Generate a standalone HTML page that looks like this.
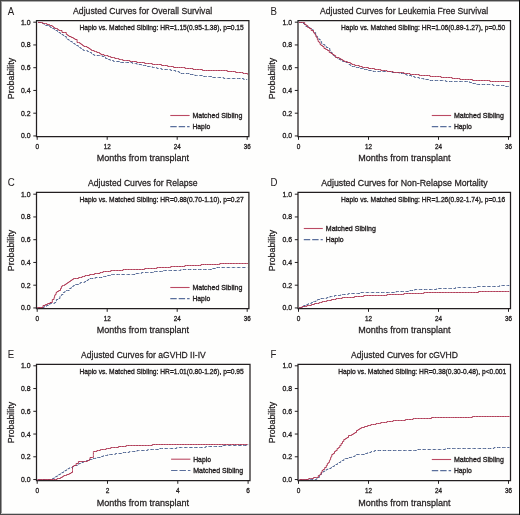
<!DOCTYPE html>
<html><head><meta charset="utf-8"><style>
html,body{margin:0;padding:0;background:#fefefd;}
svg{display:block;will-change:transform;}
text{font-family:"Liberation Sans",sans-serif;fill:#231f20;stroke:#231f20;stroke-width:0.26px;}
.s{stroke-width:0.34px;}
</style></head><body>
<svg width="520" height="515" viewBox="0 0 520 515">
<rect x="0" y="0" width="520" height="515" fill="#fefefd"/>

<text transform="translate(7.70,14.90) scale(0.87,1)" x="0" y="0" font-size="11.1" style="stroke-width:0.05px">A</text>
<text x="73.10" y="14.20" font-size="9.3" textLength="139.10" lengthAdjust="spacingAndGlyphs">Adjusted Curves for Overall Survival</text>
<path d="M36.50 20.50 H248.90 V136.50 H36.50 Z" fill="none" stroke="#231f20" stroke-width="1.25"/>
<line x1="33.30" y1="135.94" x2="36.50" y2="135.94" stroke="#231f20" stroke-width="1"/>
<text x="30.60" y="138.44" class="s" font-size="7.5" text-anchor="end" textLength="9.6" lengthAdjust="spacingAndGlyphs">0.0</text>
<line x1="33.30" y1="113.19" x2="36.50" y2="113.19" stroke="#231f20" stroke-width="1"/>
<text x="30.60" y="115.69" class="s" font-size="7.5" text-anchor="end" textLength="9.6" lengthAdjust="spacingAndGlyphs">0.2</text>
<line x1="33.30" y1="90.44" x2="36.50" y2="90.44" stroke="#231f20" stroke-width="1"/>
<text x="30.60" y="92.94" class="s" font-size="7.5" text-anchor="end" textLength="9.6" lengthAdjust="spacingAndGlyphs">0.4</text>
<line x1="33.30" y1="67.70" x2="36.50" y2="67.70" stroke="#231f20" stroke-width="1"/>
<text x="30.60" y="70.20" class="s" font-size="7.5" text-anchor="end" textLength="9.6" lengthAdjust="spacingAndGlyphs">0.6</text>
<line x1="33.30" y1="44.95" x2="36.50" y2="44.95" stroke="#231f20" stroke-width="1"/>
<text x="30.60" y="47.45" class="s" font-size="7.5" text-anchor="end" textLength="9.6" lengthAdjust="spacingAndGlyphs">0.8</text>
<line x1="33.30" y1="22.20" x2="36.50" y2="22.20" stroke="#231f20" stroke-width="1"/>
<text x="30.60" y="24.70" class="s" font-size="7.5" text-anchor="end" textLength="9.6" lengthAdjust="spacingAndGlyphs">1.0</text>
<line x1="37.20" y1="136.50" x2="37.20" y2="139.80" stroke="#231f20" stroke-width="1"/>
<text x="37.20" y="149.40" class="s" font-size="7.5" text-anchor="middle" textLength="3.6" lengthAdjust="spacingAndGlyphs">0</text>
<line x1="107.20" y1="136.50" x2="107.20" y2="139.80" stroke="#231f20" stroke-width="1"/>
<text x="107.20" y="149.40" class="s" font-size="7.5" text-anchor="middle" textLength="7.0" lengthAdjust="spacingAndGlyphs">12</text>
<line x1="177.20" y1="136.50" x2="177.20" y2="139.80" stroke="#231f20" stroke-width="1"/>
<text x="177.20" y="149.40" class="s" font-size="7.5" text-anchor="middle" textLength="7.0" lengthAdjust="spacingAndGlyphs">24</text>
<line x1="247.20" y1="136.50" x2="247.20" y2="139.80" stroke="#231f20" stroke-width="1"/>
<text x="247.20" y="149.40" class="s" font-size="7.5" text-anchor="middle" textLength="7.0" lengthAdjust="spacingAndGlyphs">36</text>
<text x="142.90" y="161.10" font-size="9.3" text-anchor="middle" textLength="92.3" lengthAdjust="spacingAndGlyphs">Months from transplant</text>
<text transform="translate(13.70,78.50) rotate(-90)" x="0" y="0" font-size="9.3" text-anchor="middle" textLength="41.3" lengthAdjust="spacingAndGlyphs">Probability</text>
<text x="243.80" y="30.30" class="s" font-size="7.5" text-anchor="end" textLength="164.4" lengthAdjust="spacingAndGlyphs">Haplo vs. Matched Sibling: HR=1.15(0.95-1.38), p=0.15</text>
<line x1="170.30" y1="115.50" x2="189.60" y2="115.50" stroke="#bb4a63" stroke-width="1.1"/>
<text x="192.40" y="117.80" class="s" font-size="7.3" textLength="50.0" lengthAdjust="spacingAndGlyphs">Matched Sibling</text>
<line x1="170.30" y1="126.60" x2="189.60" y2="126.60" stroke="#5a6f9c" stroke-width="1.1" stroke-dasharray="6.4 2"/>
<text x="192.40" y="128.90" class="s" font-size="7.3" textLength="17.8" lengthAdjust="spacingAndGlyphs">Haplo</text>
<text transform="translate(270.40,14.90) scale(0.87,1)" x="0" y="0" font-size="11.1" style="stroke-width:0.05px">B</text>
<text x="320.00" y="14.20" font-size="9.3" textLength="168.20" lengthAdjust="spacingAndGlyphs">Adjusted Curves for Leukemia Free Survival</text>
<path d="M298.00 20.50 H510.50 V136.50 H298.00 Z" fill="none" stroke="#231f20" stroke-width="1.25"/>
<line x1="294.80" y1="135.94" x2="298.00" y2="135.94" stroke="#231f20" stroke-width="1"/>
<text x="292.10" y="138.44" class="s" font-size="7.5" text-anchor="end" textLength="9.6" lengthAdjust="spacingAndGlyphs">0.0</text>
<line x1="294.80" y1="113.19" x2="298.00" y2="113.19" stroke="#231f20" stroke-width="1"/>
<text x="292.10" y="115.69" class="s" font-size="7.5" text-anchor="end" textLength="9.6" lengthAdjust="spacingAndGlyphs">0.2</text>
<line x1="294.80" y1="90.44" x2="298.00" y2="90.44" stroke="#231f20" stroke-width="1"/>
<text x="292.10" y="92.94" class="s" font-size="7.5" text-anchor="end" textLength="9.6" lengthAdjust="spacingAndGlyphs">0.4</text>
<line x1="294.80" y1="67.70" x2="298.00" y2="67.70" stroke="#231f20" stroke-width="1"/>
<text x="292.10" y="70.20" class="s" font-size="7.5" text-anchor="end" textLength="9.6" lengthAdjust="spacingAndGlyphs">0.6</text>
<line x1="294.80" y1="44.95" x2="298.00" y2="44.95" stroke="#231f20" stroke-width="1"/>
<text x="292.10" y="47.45" class="s" font-size="7.5" text-anchor="end" textLength="9.6" lengthAdjust="spacingAndGlyphs">0.8</text>
<line x1="294.80" y1="22.20" x2="298.00" y2="22.20" stroke="#231f20" stroke-width="1"/>
<text x="292.10" y="24.70" class="s" font-size="7.5" text-anchor="end" textLength="9.6" lengthAdjust="spacingAndGlyphs">1.0</text>
<line x1="298.50" y1="136.50" x2="298.50" y2="139.80" stroke="#231f20" stroke-width="1"/>
<text x="298.50" y="149.40" class="s" font-size="7.5" text-anchor="middle" textLength="3.6" lengthAdjust="spacingAndGlyphs">0</text>
<line x1="368.50" y1="136.50" x2="368.50" y2="139.80" stroke="#231f20" stroke-width="1"/>
<text x="368.50" y="149.40" class="s" font-size="7.5" text-anchor="middle" textLength="7.0" lengthAdjust="spacingAndGlyphs">12</text>
<line x1="438.50" y1="136.50" x2="438.50" y2="139.80" stroke="#231f20" stroke-width="1"/>
<text x="438.50" y="149.40" class="s" font-size="7.5" text-anchor="middle" textLength="7.0" lengthAdjust="spacingAndGlyphs">24</text>
<line x1="508.50" y1="136.50" x2="508.50" y2="139.80" stroke="#231f20" stroke-width="1"/>
<text x="508.50" y="149.40" class="s" font-size="7.5" text-anchor="middle" textLength="7.0" lengthAdjust="spacingAndGlyphs">36</text>
<text x="404.40" y="161.10" font-size="9.3" text-anchor="middle" textLength="92.3" lengthAdjust="spacingAndGlyphs">Months from transplant</text>
<text transform="translate(275.20,78.50) rotate(-90)" x="0" y="0" font-size="9.3" text-anchor="middle" textLength="41.3" lengthAdjust="spacingAndGlyphs">Probability</text>
<text x="505.30" y="30.30" class="s" font-size="7.5" text-anchor="end" textLength="164.4" lengthAdjust="spacingAndGlyphs">Haplo vs. Matched Sibling: HR=1.06(0.89-1.27), p=0.50</text>
<line x1="431.80" y1="115.50" x2="451.10" y2="115.50" stroke="#bb4a63" stroke-width="1.1"/>
<text x="453.90" y="117.80" class="s" font-size="7.3" textLength="50.0" lengthAdjust="spacingAndGlyphs">Matched Sibling</text>
<line x1="431.80" y1="126.60" x2="451.10" y2="126.60" stroke="#5a6f9c" stroke-width="1.1" stroke-dasharray="6.4 2"/>
<text x="453.90" y="128.90" class="s" font-size="7.3" textLength="17.8" lengthAdjust="spacingAndGlyphs">Haplo</text>
<text transform="translate(7.70,186.30) scale(0.87,1)" x="0" y="0" font-size="11.1" style="stroke-width:0.05px">C</text>
<text x="88.00" y="186.20" font-size="9.3" textLength="109.60" lengthAdjust="spacingAndGlyphs">Adjusted Curves for Relapse</text>
<path d="M36.50 192.30 H248.90 V308.50 H36.50 Z" fill="none" stroke="#231f20" stroke-width="1.25"/>
<line x1="33.30" y1="307.94" x2="36.50" y2="307.94" stroke="#231f20" stroke-width="1"/>
<text x="30.60" y="310.44" class="s" font-size="7.5" text-anchor="end" textLength="9.6" lengthAdjust="spacingAndGlyphs">0.0</text>
<line x1="33.30" y1="285.19" x2="36.50" y2="285.19" stroke="#231f20" stroke-width="1"/>
<text x="30.60" y="287.69" class="s" font-size="7.5" text-anchor="end" textLength="9.6" lengthAdjust="spacingAndGlyphs">0.2</text>
<line x1="33.30" y1="262.44" x2="36.50" y2="262.44" stroke="#231f20" stroke-width="1"/>
<text x="30.60" y="264.94" class="s" font-size="7.5" text-anchor="end" textLength="9.6" lengthAdjust="spacingAndGlyphs">0.4</text>
<line x1="33.30" y1="239.70" x2="36.50" y2="239.70" stroke="#231f20" stroke-width="1"/>
<text x="30.60" y="242.20" class="s" font-size="7.5" text-anchor="end" textLength="9.6" lengthAdjust="spacingAndGlyphs">0.6</text>
<line x1="33.30" y1="216.95" x2="36.50" y2="216.95" stroke="#231f20" stroke-width="1"/>
<text x="30.60" y="219.45" class="s" font-size="7.5" text-anchor="end" textLength="9.6" lengthAdjust="spacingAndGlyphs">0.8</text>
<line x1="33.30" y1="194.20" x2="36.50" y2="194.20" stroke="#231f20" stroke-width="1"/>
<text x="30.60" y="196.70" class="s" font-size="7.5" text-anchor="end" textLength="9.6" lengthAdjust="spacingAndGlyphs">1.0</text>
<line x1="37.20" y1="308.50" x2="37.20" y2="311.80" stroke="#231f20" stroke-width="1"/>
<text x="37.20" y="321.40" class="s" font-size="7.5" text-anchor="middle" textLength="3.6" lengthAdjust="spacingAndGlyphs">0</text>
<line x1="107.20" y1="308.50" x2="107.20" y2="311.80" stroke="#231f20" stroke-width="1"/>
<text x="107.20" y="321.40" class="s" font-size="7.5" text-anchor="middle" textLength="7.0" lengthAdjust="spacingAndGlyphs">12</text>
<line x1="177.20" y1="308.50" x2="177.20" y2="311.80" stroke="#231f20" stroke-width="1"/>
<text x="177.20" y="321.40" class="s" font-size="7.5" text-anchor="middle" textLength="7.0" lengthAdjust="spacingAndGlyphs">24</text>
<line x1="247.20" y1="308.50" x2="247.20" y2="311.80" stroke="#231f20" stroke-width="1"/>
<text x="247.20" y="321.40" class="s" font-size="7.5" text-anchor="middle" textLength="7.0" lengthAdjust="spacingAndGlyphs">36</text>
<text x="142.90" y="332.70" font-size="9.3" text-anchor="middle" textLength="92.3" lengthAdjust="spacingAndGlyphs">Months from transplant</text>
<text transform="translate(13.70,250.50) rotate(-90)" x="0" y="0" font-size="9.3" text-anchor="middle" textLength="41.3" lengthAdjust="spacingAndGlyphs">Probability</text>
<text x="243.80" y="202.30" class="s" font-size="7.5" text-anchor="end" textLength="164.4" lengthAdjust="spacingAndGlyphs">Haplo vs. Matched Sibling: HR=0.88(0.70-1.10), p=0.27</text>
<line x1="170.30" y1="287.50" x2="189.60" y2="287.50" stroke="#bb4a63" stroke-width="1.1"/>
<text x="192.40" y="289.80" class="s" font-size="7.3" textLength="50.0" lengthAdjust="spacingAndGlyphs">Matched Sibling</text>
<line x1="170.30" y1="298.60" x2="189.60" y2="298.60" stroke="#5a6f9c" stroke-width="1.1" stroke-dasharray="6.4 2"/>
<text x="192.40" y="300.90" class="s" font-size="7.3" textLength="17.8" lengthAdjust="spacingAndGlyphs">Haplo</text>
<text transform="translate(270.40,186.30) scale(0.87,1)" x="0" y="0" font-size="11.1" style="stroke-width:0.05px">D</text>
<text x="321.20" y="186.20" font-size="9.3" textLength="166.40" lengthAdjust="spacingAndGlyphs">Adjusted Curves for Non-Relapse Mortality</text>
<path d="M298.00 192.30 H510.50 V308.50 H298.00 Z" fill="none" stroke="#231f20" stroke-width="1.25"/>
<line x1="294.80" y1="307.94" x2="298.00" y2="307.94" stroke="#231f20" stroke-width="1"/>
<text x="292.10" y="310.44" class="s" font-size="7.5" text-anchor="end" textLength="9.6" lengthAdjust="spacingAndGlyphs">0.0</text>
<line x1="294.80" y1="285.19" x2="298.00" y2="285.19" stroke="#231f20" stroke-width="1"/>
<text x="292.10" y="287.69" class="s" font-size="7.5" text-anchor="end" textLength="9.6" lengthAdjust="spacingAndGlyphs">0.2</text>
<line x1="294.80" y1="262.44" x2="298.00" y2="262.44" stroke="#231f20" stroke-width="1"/>
<text x="292.10" y="264.94" class="s" font-size="7.5" text-anchor="end" textLength="9.6" lengthAdjust="spacingAndGlyphs">0.4</text>
<line x1="294.80" y1="239.70" x2="298.00" y2="239.70" stroke="#231f20" stroke-width="1"/>
<text x="292.10" y="242.20" class="s" font-size="7.5" text-anchor="end" textLength="9.6" lengthAdjust="spacingAndGlyphs">0.6</text>
<line x1="294.80" y1="216.95" x2="298.00" y2="216.95" stroke="#231f20" stroke-width="1"/>
<text x="292.10" y="219.45" class="s" font-size="7.5" text-anchor="end" textLength="9.6" lengthAdjust="spacingAndGlyphs">0.8</text>
<line x1="294.80" y1="194.20" x2="298.00" y2="194.20" stroke="#231f20" stroke-width="1"/>
<text x="292.10" y="196.70" class="s" font-size="7.5" text-anchor="end" textLength="9.6" lengthAdjust="spacingAndGlyphs">1.0</text>
<line x1="298.50" y1="308.50" x2="298.50" y2="311.80" stroke="#231f20" stroke-width="1"/>
<text x="298.50" y="321.40" class="s" font-size="7.5" text-anchor="middle" textLength="3.6" lengthAdjust="spacingAndGlyphs">0</text>
<line x1="368.50" y1="308.50" x2="368.50" y2="311.80" stroke="#231f20" stroke-width="1"/>
<text x="368.50" y="321.40" class="s" font-size="7.5" text-anchor="middle" textLength="7.0" lengthAdjust="spacingAndGlyphs">12</text>
<line x1="438.50" y1="308.50" x2="438.50" y2="311.80" stroke="#231f20" stroke-width="1"/>
<text x="438.50" y="321.40" class="s" font-size="7.5" text-anchor="middle" textLength="7.0" lengthAdjust="spacingAndGlyphs">24</text>
<line x1="508.50" y1="308.50" x2="508.50" y2="311.80" stroke="#231f20" stroke-width="1"/>
<text x="508.50" y="321.40" class="s" font-size="7.5" text-anchor="middle" textLength="7.0" lengthAdjust="spacingAndGlyphs">36</text>
<text x="404.40" y="332.70" font-size="9.3" text-anchor="middle" textLength="92.3" lengthAdjust="spacingAndGlyphs">Months from transplant</text>
<text transform="translate(275.20,250.50) rotate(-90)" x="0" y="0" font-size="9.3" text-anchor="middle" textLength="41.3" lengthAdjust="spacingAndGlyphs">Probability</text>
<text x="505.30" y="202.30" class="s" font-size="7.5" text-anchor="end" textLength="164.4" lengthAdjust="spacingAndGlyphs">Haplo vs. Matched Sibling: HR=1.26(0.92-1.74), p=0.16</text>
<line x1="303.80" y1="228.50" x2="322.80" y2="228.50" stroke="#bb4a63" stroke-width="1.1"/>
<text x="325.80" y="230.80" class="s" font-size="7.3" textLength="50.0" lengthAdjust="spacingAndGlyphs">Matched Sibling</text>
<line x1="303.80" y1="239.60" x2="322.80" y2="239.60" stroke="#5a6f9c" stroke-width="1.1" stroke-dasharray="6.4 2"/>
<text x="325.80" y="241.90" class="s" font-size="7.3" textLength="17.8" lengthAdjust="spacingAndGlyphs">Haplo</text>
<text transform="translate(7.70,358.10) scale(0.87,1)" x="0" y="0" font-size="11.1" style="stroke-width:0.05px">E</text>
<text x="81.10" y="358.20" font-size="9.3" textLength="124.60" lengthAdjust="spacingAndGlyphs">Adjusted Curves for aGVHD II-IV</text>
<path d="M36.50 364.30 H250.00 V480.50 H36.50 Z" fill="none" stroke="#231f20" stroke-width="1.25"/>
<line x1="33.30" y1="479.54" x2="36.50" y2="479.54" stroke="#231f20" stroke-width="1"/>
<text x="30.60" y="482.04" class="s" font-size="7.5" text-anchor="end" textLength="9.6" lengthAdjust="spacingAndGlyphs">0.0</text>
<line x1="33.30" y1="456.79" x2="36.50" y2="456.79" stroke="#231f20" stroke-width="1"/>
<text x="30.60" y="459.29" class="s" font-size="7.5" text-anchor="end" textLength="9.6" lengthAdjust="spacingAndGlyphs">0.2</text>
<line x1="33.30" y1="434.04" x2="36.50" y2="434.04" stroke="#231f20" stroke-width="1"/>
<text x="30.60" y="436.54" class="s" font-size="7.5" text-anchor="end" textLength="9.6" lengthAdjust="spacingAndGlyphs">0.4</text>
<line x1="33.30" y1="411.30" x2="36.50" y2="411.30" stroke="#231f20" stroke-width="1"/>
<text x="30.60" y="413.80" class="s" font-size="7.5" text-anchor="end" textLength="9.6" lengthAdjust="spacingAndGlyphs">0.6</text>
<line x1="33.30" y1="388.55" x2="36.50" y2="388.55" stroke="#231f20" stroke-width="1"/>
<text x="30.60" y="391.05" class="s" font-size="7.5" text-anchor="end" textLength="9.6" lengthAdjust="spacingAndGlyphs">0.8</text>
<line x1="33.30" y1="365.80" x2="36.50" y2="365.80" stroke="#231f20" stroke-width="1"/>
<text x="30.60" y="368.30" class="s" font-size="7.5" text-anchor="end" textLength="9.6" lengthAdjust="spacingAndGlyphs">1.0</text>
<line x1="37.20" y1="480.50" x2="37.20" y2="483.80" stroke="#231f20" stroke-width="1"/>
<text x="37.20" y="493.40" class="s" font-size="7.5" text-anchor="middle" textLength="3.6" lengthAdjust="spacingAndGlyphs">0</text>
<line x1="107.50" y1="480.50" x2="107.50" y2="483.80" stroke="#231f20" stroke-width="1"/>
<text x="107.50" y="493.40" class="s" font-size="7.5" text-anchor="middle" textLength="3.6" lengthAdjust="spacingAndGlyphs">2</text>
<line x1="177.80" y1="480.50" x2="177.80" y2="483.80" stroke="#231f20" stroke-width="1"/>
<text x="177.80" y="493.40" class="s" font-size="7.5" text-anchor="middle" textLength="3.6" lengthAdjust="spacingAndGlyphs">4</text>
<line x1="248.10" y1="480.50" x2="248.10" y2="483.80" stroke="#231f20" stroke-width="1"/>
<text x="248.10" y="493.40" class="s" font-size="7.5" text-anchor="middle" textLength="3.6" lengthAdjust="spacingAndGlyphs">6</text>
<text x="142.90" y="505.80" font-size="9.3" text-anchor="middle" textLength="92.3" lengthAdjust="spacingAndGlyphs">Months from transplant</text>
<text transform="translate(13.70,422.50) rotate(-90)" x="0" y="0" font-size="9.3" text-anchor="middle" textLength="41.3" lengthAdjust="spacingAndGlyphs">Probability</text>
<text x="243.80" y="374.30" class="s" font-size="7.5" text-anchor="end" textLength="164.4" lengthAdjust="spacingAndGlyphs">Haplo vs. Matched Sibling: HR=1.01(0.80-1.26), p=0.95</text>
<line x1="171.10" y1="459.20" x2="190.40" y2="459.20" stroke="#bb4a63" stroke-width="1.1"/>
<text x="193.20" y="461.50" class="s" font-size="7.3" textLength="17.8" lengthAdjust="spacingAndGlyphs">Haplo</text>
<line x1="171.10" y1="470.50" x2="190.40" y2="470.50" stroke="#5a6f9c" stroke-width="1.1" stroke-dasharray="6.4 2"/>
<text x="193.20" y="472.80" class="s" font-size="7.3" textLength="50.0" lengthAdjust="spacingAndGlyphs">Matched Sibling</text>
<text transform="translate(270.40,358.10) scale(0.87,1)" x="0" y="0" font-size="11.1" style="stroke-width:0.05px">F</text>
<text x="351.10" y="358.20" font-size="9.3" textLength="106.90" lengthAdjust="spacingAndGlyphs">Adjusted Curves for cGVHD</text>
<path d="M298.00 364.30 H510.50 V480.50 H298.00 Z" fill="none" stroke="#231f20" stroke-width="1.25"/>
<line x1="294.80" y1="479.54" x2="298.00" y2="479.54" stroke="#231f20" stroke-width="1"/>
<text x="292.10" y="482.04" class="s" font-size="7.5" text-anchor="end" textLength="9.6" lengthAdjust="spacingAndGlyphs">0.0</text>
<line x1="294.80" y1="456.79" x2="298.00" y2="456.79" stroke="#231f20" stroke-width="1"/>
<text x="292.10" y="459.29" class="s" font-size="7.5" text-anchor="end" textLength="9.6" lengthAdjust="spacingAndGlyphs">0.2</text>
<line x1="294.80" y1="434.04" x2="298.00" y2="434.04" stroke="#231f20" stroke-width="1"/>
<text x="292.10" y="436.54" class="s" font-size="7.5" text-anchor="end" textLength="9.6" lengthAdjust="spacingAndGlyphs">0.4</text>
<line x1="294.80" y1="411.30" x2="298.00" y2="411.30" stroke="#231f20" stroke-width="1"/>
<text x="292.10" y="413.80" class="s" font-size="7.5" text-anchor="end" textLength="9.6" lengthAdjust="spacingAndGlyphs">0.6</text>
<line x1="294.80" y1="388.55" x2="298.00" y2="388.55" stroke="#231f20" stroke-width="1"/>
<text x="292.10" y="391.05" class="s" font-size="7.5" text-anchor="end" textLength="9.6" lengthAdjust="spacingAndGlyphs">0.8</text>
<line x1="294.80" y1="365.80" x2="298.00" y2="365.80" stroke="#231f20" stroke-width="1"/>
<text x="292.10" y="368.30" class="s" font-size="7.5" text-anchor="end" textLength="9.6" lengthAdjust="spacingAndGlyphs">1.0</text>
<line x1="298.50" y1="480.50" x2="298.50" y2="483.80" stroke="#231f20" stroke-width="1"/>
<text x="298.50" y="493.40" class="s" font-size="7.5" text-anchor="middle" textLength="3.6" lengthAdjust="spacingAndGlyphs">0</text>
<line x1="368.50" y1="480.50" x2="368.50" y2="483.80" stroke="#231f20" stroke-width="1"/>
<text x="368.50" y="493.40" class="s" font-size="7.5" text-anchor="middle" textLength="7.0" lengthAdjust="spacingAndGlyphs">12</text>
<line x1="438.50" y1="480.50" x2="438.50" y2="483.80" stroke="#231f20" stroke-width="1"/>
<text x="438.50" y="493.40" class="s" font-size="7.5" text-anchor="middle" textLength="7.0" lengthAdjust="spacingAndGlyphs">24</text>
<line x1="508.50" y1="480.50" x2="508.50" y2="483.80" stroke="#231f20" stroke-width="1"/>
<text x="508.50" y="493.40" class="s" font-size="7.5" text-anchor="middle" textLength="7.0" lengthAdjust="spacingAndGlyphs">36</text>
<text x="404.40" y="505.80" font-size="9.3" text-anchor="middle" textLength="92.3" lengthAdjust="spacingAndGlyphs">Months from transplant</text>
<text transform="translate(275.20,422.50) rotate(-90)" x="0" y="0" font-size="9.3" text-anchor="middle" textLength="41.3" lengthAdjust="spacingAndGlyphs">Probability</text>
<text x="506.30" y="374.30" class="s" font-size="7.5" text-anchor="end" textLength="168.1" lengthAdjust="spacingAndGlyphs">Haplo vs. Matched Sibling: HR=0.38(0.30-0.48), p&lt;0.001</text>
<line x1="431.80" y1="459.50" x2="451.10" y2="459.50" stroke="#bb4a63" stroke-width="1.1"/>
<text x="453.90" y="461.80" class="s" font-size="7.3" textLength="50.0" lengthAdjust="spacingAndGlyphs">Matched Sibling</text>
<line x1="431.80" y1="470.60" x2="451.10" y2="470.60" stroke="#5a6f9c" stroke-width="1.1" stroke-dasharray="6.4 2"/>
<text x="453.90" y="472.90" class="s" font-size="7.3" textLength="17.8" lengthAdjust="spacingAndGlyphs">Haplo</text>
<g>
<path d="M38.00 22.30 L39.00 22.50 L39.00 22.50 L40.70 22.50 L40.70 22.50 L42.40 22.50 L42.40 23.50 L44.10 23.50 L44.10 24.50 L45.70 24.50 L45.70 25.50 L47.30 25.50 L47.30 25.50 L48.90 25.50 L48.90 26.50 L50.50 26.50 L50.50 27.50 L52.40 27.50 L52.40 28.50 L54.30 28.50 L54.30 29.50 L55.90 29.50 L55.90 30.50 L57.50 30.50 L57.50 31.50 L58.85 31.50 L58.85 32.50 L60.20 32.50 L60.20 33.50 L61.65 33.50 L61.65 34.50 L63.10 34.50 L63.10 35.50 L64.70 35.50 L64.70 36.50 L66.30 36.50 L66.30 38.50 L67.65 38.50 L67.65 39.50 L69.00 39.50 L69.00 40.50 L70.60 40.50 L70.60 41.50 L72.20 41.50 L72.20 42.50 L73.55 42.50 L73.55 43.50 L74.90 43.50 L74.90 44.50 L76.55 44.50 L76.55 45.50 L78.20 45.50 L78.20 46.50 L79.45 46.50 L79.45 47.50 L80.70 47.50 L80.70 48.50 L82.05 48.50 L82.05 49.50 L83.40 49.50 L83.40 50.50 L84.75 50.50 L84.75 50.50 L86.10 50.50 L86.10 50.50 L87.45 50.50 L87.45 51.50 L88.80 51.50 L88.80 51.50 L90.15 51.50 L90.15 52.50 L91.50 52.50 L91.50 53.50 L92.85 53.50 L92.85 54.50 L94.20 54.50 L94.20 55.50 L95.50 55.50 L95.50 55.50 L96.80 55.50 L96.80 55.50 L98.15 55.50 L98.15 55.50 L99.50 55.50 L99.50 55.50 L100.85 55.50 L100.85 55.50 L102.20 55.50 L102.20 56.50 L104.00 56.50 L104.00 56.50 L105.60 56.50 L105.60 58.50 L106.95 58.50 L106.95 58.50 L108.30 58.50 L108.30 59.50 L110.20 59.50 L110.20 60.50 L112.10 60.50 L112.10 60.50 L113.53 60.50 L113.53 61.50 L114.97 61.50 L114.97 61.50 L116.40 61.50 L116.40 61.50 L118.00 61.50 L118.00 61.50 L119.60 61.50 L119.60 62.50 L121.20 62.50 L121.20 62.50 L123.00 62.50 L123.00 62.50 L124.80 62.50 L124.80 62.50 L126.60 62.50 L126.60 62.50 L128.03 62.50 L128.03 62.50 L129.47 62.50 L129.47 62.50 L130.90 62.50 L130.90 62.50 L132.42 62.50 L132.42 63.50 L133.94 63.50 L133.94 63.50 L135.46 63.50 L135.46 63.50 L136.98 63.50 L136.98 64.50 L138.50 64.50 L138.50 64.50 L140.04 64.50 L140.04 64.50 L141.58 64.50 L141.58 65.50 L143.12 65.50 L143.12 65.50 L144.66 65.50 L144.66 65.50 L146.20 65.50 L146.20 66.50 L147.72 66.50 L147.72 66.50 L149.24 66.50 L149.24 66.50 L150.76 66.50 L150.76 66.50 L152.28 66.50 L152.28 67.50 L153.80 67.50 L153.80 67.50 L155.37 67.50 L155.37 67.50 L156.93 67.50 L156.93 68.50 L158.50 68.50 L158.50 68.50 L160.04 68.50 L160.04 68.50 L161.58 68.50 L161.58 69.50 L163.12 69.50 L163.12 69.50 L164.66 69.50 L164.66 69.50 L166.20 69.50 L166.20 69.50 L167.72 69.50 L167.72 69.50 L169.24 69.50 L169.24 69.50 L170.76 69.50 L170.76 70.50 L172.28 70.50 L172.28 70.50 L173.80 70.50 L173.80 70.50 L175.55 70.50 L175.55 71.50 L177.30 71.50 L177.30 71.50 L179.05 71.50 L179.05 72.50 L180.80 72.50 L180.80 73.50 L182.52 73.50 L182.52 73.50 L184.24 73.50 L184.24 73.50 L185.96 73.50 L185.96 73.50 L187.68 73.50 L187.68 73.50 L189.40 73.50 L189.40 74.50 L191.20 74.50 L191.20 74.50 L193.00 74.50 L193.00 74.50 L194.80 74.50 L194.80 75.50 L196.60 75.50 L196.60 75.50 L198.06 75.50 L198.06 75.50 L199.52 75.50 L199.52 75.50 L200.98 75.50 L200.98 75.50 L202.44 75.50 L202.44 76.50 L203.90 76.50 L203.90 76.50 L205.68 76.50 L205.68 76.50 L207.45 76.50 L207.45 76.50 L209.22 76.50 L209.22 76.50 L211.00 76.50 L211.00 76.50 L212.46 76.50 L212.46 77.50 L213.92 77.50 L213.92 77.50 L215.38 77.50 L215.38 77.50 L216.84 77.50 L216.84 77.50 L218.30 77.50 L218.30 77.50 L220.10 77.50 L220.10 77.50 L221.90 77.50 L221.90 77.50 L223.70 77.50 L223.70 78.50 L225.50 78.50 L225.50 78.50 L227.30 78.50 L227.30 78.50 L229.10 78.50 L229.10 78.50 L230.90 78.50 L230.90 78.50 L232.70 78.50 L232.70 78.50 L234.16 78.50 L234.16 78.50 L235.62 78.50 L235.62 78.50 L237.08 78.50 L237.08 78.50 L238.54 78.50 L238.54 78.50 L240.00 78.50 L240.00 78.50 L241.80 78.50 L241.80 78.50 L243.60 78.50 L243.60 79.50 L245.40 79.50 L245.40 79.50 L247.20 79.50 L247.20 79.50" fill="none" stroke="#4c6290" stroke-linejoin="round" stroke-width="0.95" stroke-dasharray="3.5 1.6"/>
<path d="M298.90 22.40 L300.27 22.50 L300.27 22.50 L301.63 22.50 L301.63 22.50 L303.00 22.50 L303.00 23.50 L304.45 23.50 L304.45 24.50 L305.90 24.50 L305.90 26.50 L307.27 26.50 L307.27 26.50 L308.63 26.50 L308.63 27.50 L310.00 27.50 L310.00 28.50 L311.53 28.50 L311.53 29.50 L313.07 29.50 L313.07 31.50 L314.60 31.50 L314.60 32.50 L315.60 32.50 L315.60 34.50 L316.60 34.50 L316.60 36.50 L317.60 36.50 L317.60 37.50 L318.93 37.50 L318.93 39.50 L320.27 39.50 L320.27 41.50 L321.60 41.50 L321.60 43.50 L323.17 43.50 L323.17 44.50 L324.73 44.50 L324.73 45.50 L326.30 45.50 L326.30 47.50 L328.05 47.50 L328.05 48.50 L329.80 48.50 L329.80 50.50 L330.98 50.50 L330.98 52.50 L332.15 52.50 L332.15 53.50 L333.32 53.50 L333.32 55.50 L334.50 55.50 L334.50 56.50 L336.03 56.50 L336.03 57.50 L337.57 57.50 L337.57 58.50 L339.10 58.50 L339.10 59.50 L340.85 59.50 L340.85 60.50 L342.60 60.50 L342.60 61.50 L344.17 61.50 L344.17 61.50 L345.73 61.50 L345.73 62.50 L347.30 62.50 L347.30 62.50 L348.83 62.50 L348.83 64.50 L350.37 64.50 L350.37 65.50 L351.90 65.50 L351.90 66.50 L353.33 66.50 L353.33 66.50 L354.77 66.50 L354.77 67.50 L356.20 67.50 L356.20 67.50 L357.73 67.50 L357.73 67.50 L359.27 67.50 L359.27 68.50 L360.80 68.50 L360.80 68.50 L362.33 68.50 L362.33 68.50 L363.87 68.50 L363.87 69.50 L365.40 69.50 L365.40 69.50 L366.94 69.50 L366.94 69.50 L368.48 69.50 L368.48 70.50 L370.02 70.50 L370.02 70.50 L371.56 70.50 L371.56 70.50 L373.10 70.50 L373.10 71.50 L374.64 71.50 L374.64 71.50 L376.18 71.50 L376.18 71.50 L377.72 71.50 L377.72 71.50 L379.26 71.50 L379.26 71.50 L380.80 71.50 L380.80 71.50 L382.34 71.50 L382.34 71.50 L383.88 71.50 L383.88 71.50 L385.42 71.50 L385.42 71.50 L386.96 71.50 L386.96 71.50 L388.50 71.50 L388.50 71.50 L390.04 71.50 L390.04 71.50 L391.58 71.50 L391.58 72.50 L393.12 72.50 L393.12 72.50 L394.66 72.50 L394.66 72.50 L396.20 72.50 L396.20 72.50 L397.73 72.50 L397.73 72.50 L399.25 72.50 L399.25 73.50 L400.77 73.50 L400.77 73.50 L402.30 73.50 L402.30 73.50 L403.83 73.50 L403.83 74.50 L405.37 74.50 L405.37 74.50 L406.90 74.50 L406.90 75.50 L408.44 75.50 L408.44 75.50 L409.98 75.50 L409.98 75.50 L411.52 75.50 L411.52 76.50 L413.06 76.50 L413.06 76.50 L414.60 76.50 L414.60 77.50 L416.14 77.50 L416.14 77.50 L417.68 77.50 L417.68 77.50 L419.22 77.50 L419.22 78.50 L420.76 78.50 L420.76 78.50 L422.30 78.50 L422.30 78.50 L423.84 78.50 L423.84 79.50 L425.38 79.50 L425.38 79.50 L426.92 79.50 L426.92 79.50 L428.46 79.50 L428.46 79.50 L430.00 79.50 L430.00 80.50 L431.58 80.50 L431.58 80.50 L433.16 80.50 L433.16 80.50 L434.74 80.50 L434.74 80.50 L436.32 80.50 L436.32 80.50 L437.90 80.50 L437.90 80.50 L439.48 80.50 L439.48 80.50 L441.06 80.50 L441.06 80.50 L442.64 80.50 L442.64 80.50 L444.22 80.50 L444.22 80.50 L445.80 80.50 L445.80 81.50 L447.38 81.50 L447.38 81.50 L448.96 81.50 L448.96 81.50 L450.54 81.50 L450.54 81.50 L452.12 81.50 L452.12 81.50 L453.70 81.50 L453.70 81.50 L455.28 81.50 L455.28 81.50 L456.86 81.50 L456.86 81.50 L458.43 81.50 L458.43 81.50 L460.01 81.50 L460.01 81.50 L461.59 81.50 L461.59 81.50 L463.17 81.50 L463.17 81.50 L464.74 81.50 L464.74 81.50 L466.32 81.50 L466.32 81.50 L467.90 81.50 L467.90 81.50 L469.47 81.50 L469.47 82.50 L471.03 82.50 L471.03 82.50 L472.60 82.50 L472.60 83.50 L474.17 83.50 L474.17 83.50 L475.73 83.50 L475.73 84.50 L477.30 84.50 L477.30 84.50 L478.88 84.50 L478.88 84.50 L480.46 84.50 L480.46 84.50 L482.04 84.50 L482.04 84.50 L483.62 84.50 L483.62 84.50 L485.20 84.50 L485.20 84.50 L486.78 84.50 L486.78 84.50 L488.36 84.50 L488.36 84.50 L489.94 84.50 L489.94 84.50 L491.52 84.50 L491.52 84.50 L493.10 84.50 L493.10 85.50 L494.68 85.50 L494.68 85.50 L496.25 85.50 L496.25 85.50 L497.82 85.50 L497.82 85.50 L499.40 85.50 L499.40 85.50 L500.98 85.50 L500.98 85.50 L502.57 85.50 L502.57 85.50 L504.15 85.50 L504.15 86.50 L505.73 86.50 L505.73 86.50 L507.32 86.50 L507.32 86.50 L508.90 86.50 L508.90 86.50" fill="none" stroke="#4c6290" stroke-linejoin="round" stroke-width="0.95" stroke-dasharray="3.5 1.6"/>
<path d="M37.20 307.80 L38.73 307.50 L38.73 307.50 L40.27 307.50 L40.27 307.50 L41.80 307.50 L41.80 307.50 L43.00 307.50 L43.00 307.50 L44.20 307.50 L44.20 306.50 L46.50 306.50 L46.50 305.50 L48.25 305.50 L48.25 304.50 L50.00 304.50 L50.00 303.50 L51.75 303.50 L51.75 303.50 L53.50 303.50 L53.50 303.50 L54.60 303.50 L54.60 302.50 L56.40 302.50 L56.40 299.50 L58.10 299.50 L58.10 298.50 L59.90 298.50 L59.90 296.50 L60.75 296.50 L60.75 295.50 L61.60 295.50 L61.60 294.50 L63.15 294.50 L63.15 292.50 L64.70 292.50 L64.70 291.50 L66.15 291.50 L66.15 290.50 L67.60 290.50 L67.60 290.50 L69.35 290.50 L69.35 288.50 L71.10 288.50 L71.10 287.50 L72.25 287.50 L72.25 286.50 L73.40 286.50 L73.40 285.50 L75.15 285.50 L75.15 284.50 L76.90 284.50 L76.90 284.50 L78.65 284.50 L78.65 283.50 L80.40 283.50 L80.40 282.50 L81.85 282.50 L81.85 282.50 L83.30 282.50 L83.30 282.50 L84.75 282.50 L84.75 281.50 L86.20 281.50 L86.20 280.50 L88.00 280.50 L88.00 279.50 L89.80 279.50 L89.80 278.50 L91.60 278.50 L91.60 278.50 L93.40 278.50 L93.40 278.50 L95.20 278.50 L95.20 277.50 L97.00 277.50 L97.00 277.50 L98.80 277.50 L98.80 277.50 L100.60 277.50 L100.60 277.50 L102.00 277.50 L102.00 276.50 L103.40 276.50 L103.40 276.50 L104.80 276.50 L104.80 276.50 L106.20 276.50 L106.20 275.50 L107.72 275.50 L107.72 275.50 L109.25 275.50 L109.25 275.50 L110.78 275.50 L110.78 274.50 L112.30 274.50 L112.30 274.50 L113.83 274.50 L113.83 274.50 L115.36 274.50 L115.36 274.50 L116.89 274.50 L116.89 274.50 L118.41 274.50 L118.41 274.50 L119.94 274.50 L119.94 274.50 L121.47 274.50 L121.47 274.50 L123.00 274.50 L123.00 274.50 L124.56 274.50 L124.56 274.50 L126.12 274.50 L126.12 274.50 L127.68 274.50 L127.68 274.50 L129.24 274.50 L129.24 274.50 L130.80 274.50 L130.80 274.50 L132.34 274.50 L132.34 274.50 L133.88 274.50 L133.88 274.50 L135.42 274.50 L135.42 273.50 L136.96 273.50 L136.96 273.50 L138.50 273.50 L138.50 273.50 L140.03 273.50 L140.03 273.50 L141.57 273.50 L141.57 272.50 L143.10 272.50 L143.10 272.50 L144.64 272.50 L144.64 272.50 L146.18 272.50 L146.18 272.50 L147.72 272.50 L147.72 272.50 L149.26 272.50 L149.26 272.50 L150.80 272.50 L150.80 272.50 L152.34 272.50 L152.34 272.50 L153.88 272.50 L153.88 271.50 L155.42 271.50 L155.42 271.50 L156.96 271.50 L156.96 271.50 L158.50 271.50 L158.50 271.50 L160.03 271.50 L160.03 271.50 L161.55 271.50 L161.55 271.50 L163.07 271.50 L163.07 270.50 L164.60 270.50 L164.60 270.50 L166.14 270.50 L166.14 270.50 L167.68 270.50 L167.68 270.50 L169.22 270.50 L169.22 270.50 L170.76 270.50 L170.76 270.50 L172.30 270.50 L172.30 270.50 L173.65 270.50 L173.65 270.50 L175.00 270.50 L175.00 270.50 L176.45 270.50 L176.45 270.50 L177.90 270.50 L177.90 270.50 L179.35 270.50 L179.35 270.50 L180.80 270.50 L180.80 269.50 L182.52 269.50 L182.52 269.50 L184.24 269.50 L184.24 269.50 L185.96 269.50 L185.96 269.50 L187.68 269.50 L187.68 269.50 L189.40 269.50 L189.40 269.50 L191.06 269.50 L191.06 269.50 L192.72 269.50 L192.72 269.50 L194.38 269.50 L194.38 269.50 L196.05 269.50 L196.05 269.50 L197.71 269.50 L197.71 269.50 L199.37 269.50 L199.37 269.50 L201.03 269.50 L201.03 269.50 L202.69 269.50 L202.69 269.50 L204.35 269.50 L204.35 269.50 L206.02 269.50 L206.02 269.50 L207.68 269.50 L207.68 269.50 L209.34 269.50 L209.34 269.50 L211.00 269.50 L211.00 269.50 L212.50 269.50 L212.50 268.50 L214.00 268.50 L214.00 268.50 L215.43 268.50 L215.43 267.50 L216.87 267.50 L216.87 267.50 L218.30 267.50 L218.30 267.50 L219.91 267.50 L219.91 267.50 L221.51 267.50 L221.51 267.50 L223.12 267.50 L223.12 267.50 L224.72 267.50 L224.72 267.50 L226.33 267.50 L226.33 267.50 L227.93 267.50 L227.93 267.50 L229.54 267.50 L229.54 267.50 L231.14 267.50 L231.14 267.50 L232.75 267.50 L232.75 267.50 L234.36 267.50 L234.36 267.50 L235.96 267.50 L235.96 267.50 L237.57 267.50 L237.57 267.50 L239.17 267.50 L239.17 267.50 L240.78 267.50 L240.78 267.50 L242.38 267.50 L242.38 267.50 L243.99 267.50 L243.99 267.50 L245.59 267.50 L245.59 267.50 L247.20 267.50 L247.20 267.50" fill="none" stroke="#4c6290" stroke-linejoin="round" stroke-width="0.95" stroke-dasharray="3.5 1.6"/>
<path d="M299.10 307.70 L300.62 307.50 L300.62 307.50 L302.15 307.50 L302.15 306.50 L303.68 306.50 L303.68 305.50 L305.20 305.50 L305.20 305.50 L306.75 305.50 L306.75 304.50 L308.30 304.50 L308.30 303.50 L309.85 303.50 L309.85 303.50 L311.40 303.50 L311.40 302.50 L312.94 302.50 L312.94 301.50 L314.48 301.50 L314.48 301.50 L316.02 301.50 L316.02 300.50 L317.56 300.50 L317.56 299.50 L319.10 299.50 L319.10 299.50 L320.64 299.50 L320.64 298.50 L322.18 298.50 L322.18 298.50 L323.72 298.50 L323.72 298.50 L325.26 298.50 L325.26 298.50 L326.80 298.50 L326.80 297.50 L328.34 297.50 L328.34 297.50 L329.88 297.50 L329.88 296.50 L331.42 296.50 L331.42 296.50 L332.96 296.50 L332.96 296.50 L334.50 296.50 L334.50 295.50 L336.04 295.50 L336.04 295.50 L337.58 295.50 L337.58 295.50 L339.12 295.50 L339.12 295.50 L340.66 295.50 L340.66 294.50 L342.20 294.50 L342.20 294.50 L343.72 294.50 L343.72 294.50 L345.24 294.50 L345.24 294.50 L346.76 294.50 L346.76 294.50 L348.28 294.50 L348.28 293.50 L349.80 293.50 L349.80 293.50 L351.34 293.50 L351.34 293.50 L352.88 293.50 L352.88 293.50 L354.42 293.50 L354.42 293.50 L355.96 293.50 L355.96 293.50 L357.50 293.50 L357.50 293.50 L359.04 293.50 L359.04 293.50 L360.58 293.50 L360.58 292.50 L362.12 292.50 L362.12 292.50 L363.66 292.50 L363.66 292.50 L365.20 292.50 L365.20 292.50 L366.80 292.50 L366.80 292.50 L368.40 292.50 L368.40 292.50 L370.00 292.50 L370.00 292.50 L371.54 292.50 L371.54 292.50 L373.08 292.50 L373.08 292.50 L374.62 292.50 L374.62 292.50 L376.16 292.50 L376.16 292.50 L377.70 292.50 L377.70 292.50 L379.24 292.50 L379.24 292.50 L380.78 292.50 L380.78 292.50 L382.32 292.50 L382.32 292.50 L383.86 292.50 L383.86 292.50 L385.40 292.50 L385.40 292.50 L386.94 292.50 L386.94 292.50 L388.47 292.50 L388.47 292.50 L390.01 292.50 L390.01 292.50 L391.55 292.50 L391.55 292.50 L393.09 292.50 L393.09 292.50 L394.62 292.50 L394.62 292.50 L396.16 292.50 L396.16 291.50 L397.70 291.50 L397.70 291.50 L399.23 291.50 L399.23 291.50 L400.77 291.50 L400.77 291.50 L402.30 291.50 L402.30 291.50 L403.83 291.50 L403.83 291.50 L405.37 291.50 L405.37 291.50 L406.90 291.50 L406.90 291.50 L408.45 291.50 L408.45 290.50 L410.00 290.50 L410.00 290.50 L411.55 290.50 L411.55 290.50 L413.10 290.50 L413.10 290.50 L414.62 290.50 L414.62 289.50 L416.15 289.50 L416.15 289.50 L417.68 289.50 L417.68 289.50 L419.20 289.50 L419.20 289.50 L420.74 289.50 L420.74 289.50 L422.27 289.50 L422.27 289.50 L423.81 289.50 L423.81 289.50 L425.35 289.50 L425.35 289.50 L426.89 289.50 L426.89 289.50 L428.43 289.50 L428.43 289.50 L429.96 289.50 L429.96 289.50 L431.50 289.50 L431.50 289.50 L433.20 289.50 L433.20 289.50 L434.90 289.50 L434.90 289.50 L436.60 289.50 L436.60 288.50 L438.30 288.50 L438.30 288.50 L440.00 288.50 L440.00 288.50 L441.54 288.50 L441.54 288.50 L443.09 288.50 L443.09 288.50 L444.63 288.50 L444.63 288.50 L446.18 288.50 L446.18 288.50 L447.72 288.50 L447.72 288.50 L449.27 288.50 L449.27 288.50 L450.81 288.50 L450.81 288.50 L452.36 288.50 L452.36 288.50 L453.90 288.50 L453.90 288.50 L455.54 288.50 L455.54 287.50 L457.17 287.50 L457.17 287.50 L458.81 287.50 L458.81 287.50 L460.45 287.50 L460.45 287.50 L462.08 287.50 L462.08 287.50 L463.72 287.50 L463.72 287.50 L465.35 287.50 L465.35 287.50 L466.99 287.50 L466.99 287.50 L468.63 287.50 L468.63 287.50 L470.26 287.50 L470.26 287.50 L471.90 287.50 L471.90 287.50 L473.27 287.50 L473.27 287.50 L474.63 287.50 L474.63 287.50 L476.00 287.50 L476.00 286.50 L477.62 286.50 L477.62 286.50 L479.23 286.50 L479.23 286.50 L480.85 286.50 L480.85 286.50 L482.47 286.50 L482.47 286.50 L484.08 286.50 L484.08 286.50 L485.70 286.50 L485.70 286.50 L487.32 286.50 L487.32 286.50 L488.93 286.50 L488.93 286.50 L490.55 286.50 L490.55 286.50 L492.17 286.50 L492.17 286.50 L493.78 286.50 L493.78 286.50 L495.40 286.50 L495.40 286.50 L496.80 286.50 L496.80 286.50 L498.20 286.50 L498.20 286.50 L499.60 286.50 L499.60 285.50 L501.22 285.50 L501.22 285.50 L502.83 285.50 L502.83 285.50 L504.45 285.50 L504.45 285.50 L506.07 285.50 L506.07 285.50 L507.68 285.50 L507.68 285.50 L509.30 285.50 L509.30 285.50" fill="none" stroke="#4c6290" stroke-linejoin="round" stroke-width="0.95" stroke-dasharray="3.5 1.6"/>
<path d="M37.50 479.80 L39.16 479.50 L39.16 479.50 L40.83 479.50 L40.83 479.50 L42.49 479.50 L42.49 479.50 L44.15 479.50 L44.15 479.50 L45.81 479.50 L45.81 479.50 L47.47 479.50 L47.47 479.50 L49.14 479.50 L49.14 479.50 L50.80 479.50 L50.80 479.50 L52.50 479.50 L52.50 478.50 L54.20 478.50 L54.20 477.50 L55.73 477.50 L55.73 476.50 L57.27 476.50 L57.27 475.50 L58.80 475.50 L58.80 474.50 L60.37 474.50 L60.37 473.50 L61.93 473.50 L61.93 472.50 L63.50 472.50 L63.50 471.50 L65.03 471.50 L65.03 470.50 L66.57 470.50 L66.57 469.50 L68.10 469.50 L68.10 468.50 L69.63 468.50 L69.63 467.50 L71.17 467.50 L71.17 467.50 L72.70 467.50 L72.70 466.50 L74.23 466.50 L74.23 465.50 L75.77 465.50 L75.77 465.50 L77.30 465.50 L77.30 464.50 L78.83 464.50 L78.83 463.50 L80.37 463.50 L80.37 463.50 L81.90 463.50 L81.90 462.50 L83.43 462.50 L83.43 461.50 L84.97 461.50 L84.97 461.50 L86.50 461.50 L86.50 460.50 L88.03 460.50 L88.03 460.50 L89.57 460.50 L89.57 459.50 L91.10 459.50 L91.10 459.50 L92.67 459.50 L92.67 458.50 L94.23 458.50 L94.23 458.50 L95.80 458.50 L95.80 457.50 L97.33 457.50 L97.33 457.50 L98.87 457.50 L98.87 457.50 L100.40 457.50 L100.40 456.50 L101.86 456.50 L101.86 456.50 L103.32 456.50 L103.32 455.50 L104.78 455.50 L104.78 455.50 L106.24 455.50 L106.24 455.50 L107.70 455.50 L107.70 454.50 L109.24 454.50 L109.24 454.50 L110.78 454.50 L110.78 454.50 L112.32 454.50 L112.32 454.50 L113.86 454.50 L113.86 454.50 L115.40 454.50 L115.40 453.50 L116.92 453.50 L116.92 453.50 L118.44 453.50 L118.44 453.50 L119.96 453.50 L119.96 453.50 L121.48 453.50 L121.48 453.50 L123.00 453.50 L123.00 452.50 L124.56 452.50 L124.56 452.50 L126.12 452.50 L126.12 452.50 L127.68 452.50 L127.68 452.50 L129.24 452.50 L129.24 451.50 L130.80 451.50 L130.80 451.50 L132.34 451.50 L132.34 451.50 L133.88 451.50 L133.88 451.50 L135.42 451.50 L135.42 451.50 L136.96 451.50 L136.96 450.50 L138.50 450.50 L138.50 450.50 L140.04 450.50 L140.04 450.50 L141.58 450.50 L141.58 450.50 L143.12 450.50 L143.12 450.50 L144.66 450.50 L144.66 450.50 L146.20 450.50 L146.20 450.50 L147.72 450.50 L147.72 449.50 L149.24 449.50 L149.24 449.50 L150.76 449.50 L150.76 449.50 L152.28 449.50 L152.28 449.50 L153.80 449.50 L153.80 449.50 L155.34 449.50 L155.34 449.50 L156.88 449.50 L156.88 449.50 L158.42 449.50 L158.42 448.50 L159.96 448.50 L159.96 448.50 L161.50 448.50 L161.50 448.50 L163.04 448.50 L163.04 448.50 L164.58 448.50 L164.58 448.50 L166.12 448.50 L166.12 448.50 L167.66 448.50 L167.66 448.50 L169.20 448.50 L169.20 448.50 L170.65 448.50 L170.65 448.50 L172.10 448.50 L172.10 448.50 L173.55 448.50 L173.55 448.50 L175.00 448.50 L175.00 448.50 L176.60 448.50 L176.60 447.50 L178.20 447.50 L178.20 447.50 L179.80 447.50 L179.80 447.50 L181.40 447.50 L181.40 447.50 L183.00 447.50 L183.00 447.50 L184.60 447.50 L184.60 447.50 L186.20 447.50 L186.20 447.50 L187.80 447.50 L187.80 447.50 L189.40 447.50 L189.40 447.50 L191.01 447.50 L191.01 447.50 L192.62 447.50 L192.62 447.50 L194.23 447.50 L194.23 447.50 L195.84 447.50 L195.84 447.50 L197.46 447.50 L197.46 447.50 L199.07 447.50 L199.07 447.50 L200.68 447.50 L200.68 447.50 L202.29 447.50 L202.29 447.50 L203.90 447.50 L203.90 447.50 L205.68 447.50 L205.68 446.50 L207.45 446.50 L207.45 446.50 L209.22 446.50 L209.22 446.50 L211.00 446.50 L211.00 446.50 L212.61 446.50 L212.61 446.50 L214.22 446.50 L214.22 446.50 L215.83 446.50 L215.83 446.50 L217.44 446.50 L217.44 446.50 L219.06 446.50 L219.06 446.50 L220.67 446.50 L220.67 446.50 L222.28 446.50 L222.28 445.50 L223.89 445.50 L223.89 445.50 L225.50 445.50 L225.50 445.50 L227.11 445.50 L227.11 445.50 L228.72 445.50 L228.72 445.50 L230.33 445.50 L230.33 445.50 L231.94 445.50 L231.94 445.50 L233.56 445.50 L233.56 445.50 L235.17 445.50 L235.17 445.50 L236.78 445.50 L236.78 445.50 L238.39 445.50 L238.39 445.50 L240.00 445.50 L240.00 445.50 L241.58 445.50 L241.58 445.50 L243.16 445.50 L243.16 445.50 L244.74 445.50 L244.74 445.50 L246.32 445.50 L246.32 445.50 L247.90 445.50 L247.90 444.50" fill="none" stroke="#4c6290" stroke-linejoin="round" stroke-width="0.95" stroke-dasharray="3.5 1.6"/>
<path d="M299.50 479.60 L301.03 479.50 L301.03 479.50 L302.57 479.50 L302.57 479.50 L304.10 479.50 L304.10 479.50 L305.63 479.50 L305.63 479.50 L307.17 479.50 L307.17 479.50 L308.70 479.50 L308.70 479.50 L310.30 479.50 L310.30 479.50 L311.90 479.50 L311.90 479.50 L313.50 479.50 L313.50 479.50 L315.10 479.50 L315.10 479.50 L316.70 479.50 L316.70 478.50 L318.30 478.50 L318.30 477.50 L319.37 477.50 L319.37 475.50 L320.43 475.50 L320.43 474.50 L321.50 474.50 L321.50 472.50 L323.10 472.50 L323.10 471.50 L324.70 471.50 L324.70 470.50 L326.30 470.50 L326.30 469.50 L327.88 469.50 L327.88 468.50 L329.45 468.50 L329.45 468.50 L331.03 468.50 L331.03 467.50 L332.60 467.50 L332.60 466.50 L334.20 466.50 L334.20 465.50 L335.80 465.50 L335.80 464.50 L337.40 464.50 L337.40 463.50 L339.00 463.50 L339.00 462.50 L340.60 462.50 L340.60 461.50 L342.20 461.50 L342.20 460.50 L343.80 460.50 L343.80 458.50 L345.38 458.50 L345.38 458.50 L346.95 458.50 L346.95 458.50 L348.53 458.50 L348.53 457.50 L350.10 457.50 L350.10 457.50 L351.70 457.50 L351.70 456.50 L353.30 456.50 L353.30 456.50 L354.90 456.50 L354.90 455.50 L356.50 455.50 L356.50 454.50 L358.10 454.50 L358.10 454.50 L359.70 454.50 L359.70 454.50 L361.30 454.50 L361.30 454.50 L362.90 454.50 L362.90 454.50 L364.47 454.50 L364.47 453.50 L366.05 453.50 L366.05 453.50 L367.62 453.50 L367.62 452.50 L369.20 452.50 L369.20 452.50 L371.00 452.50 L371.00 451.50 L372.80 451.50 L372.80 451.50 L374.60 451.50 L374.60 450.50 L376.24 450.50 L376.24 450.50 L377.88 450.50 L377.88 450.50 L379.51 450.50 L379.51 450.50 L381.15 450.50 L381.15 450.50 L382.79 450.50 L382.79 450.50 L384.43 450.50 L384.43 450.50 L386.06 450.50 L386.06 450.50 L387.70 450.50 L387.70 450.50 L389.34 450.50 L389.34 450.50 L390.98 450.50 L390.98 450.50 L392.61 450.50 L392.61 450.50 L394.25 450.50 L394.25 450.50 L395.89 450.50 L395.89 450.50 L397.53 450.50 L397.53 450.50 L399.16 450.50 L399.16 450.50 L400.80 450.50 L400.80 450.50 L402.32 450.50 L402.32 450.50 L403.85 450.50 L403.85 450.50 L405.38 450.50 L405.38 450.50 L406.90 450.50 L406.90 450.50 L408.45 450.50 L408.45 450.50 L410.00 450.50 L410.00 450.50 L411.55 450.50 L411.55 450.50 L413.10 450.50 L413.10 450.50 L414.65 450.50 L414.65 450.50 L416.20 450.50 L416.20 450.50 L417.70 450.50 L417.70 449.50 L419.20 449.50 L419.20 449.50 L420.84 449.50 L420.84 449.50 L422.48 449.50 L422.48 449.50 L424.12 449.50 L424.12 449.50 L425.76 449.50 L425.76 449.50 L427.40 449.50 L427.40 449.50 L429.04 449.50 L429.04 449.50 L430.68 449.50 L430.68 449.50 L432.32 449.50 L432.32 449.50 L433.96 449.50 L433.96 449.50 L435.60 449.50 L435.60 449.50 L437.24 449.50 L437.24 449.50 L438.88 449.50 L438.88 449.50 L440.52 449.50 L440.52 449.50 L442.16 449.50 L442.16 449.50 L443.80 449.50 L443.80 449.50 L445.35 449.50 L445.35 448.50 L446.90 448.50 L446.90 448.50 L448.48 448.50 L448.48 448.50 L450.05 448.50 L450.05 448.50 L451.63 448.50 L451.63 448.50 L453.20 448.50 L453.20 448.50 L454.78 448.50 L454.78 448.50 L456.36 448.50 L456.36 448.50 L457.93 448.50 L457.93 448.50 L459.51 448.50 L459.51 448.50 L461.08 448.50 L461.08 448.50 L462.66 448.50 L462.66 448.50 L464.23 448.50 L464.23 448.50 L465.81 448.50 L465.81 448.50 L467.39 448.50 L467.39 448.50 L468.96 448.50 L468.96 448.50 L470.54 448.50 L470.54 448.50 L472.11 448.50 L472.11 448.50 L473.69 448.50 L473.69 448.50 L475.27 448.50 L475.27 448.50 L476.84 448.50 L476.84 448.50 L478.42 448.50 L478.42 448.50 L479.99 448.50 L479.99 448.50 L481.57 448.50 L481.57 448.50 L483.14 448.50 L483.14 448.50 L484.72 448.50 L484.72 448.50 L486.30 448.50 L486.30 448.50 L487.87 448.50 L487.87 448.50 L489.45 448.50 L489.45 448.50 L491.02 448.50 L491.02 448.50 L492.60 448.50 L492.60 448.50 L494.00 448.50 L494.00 447.50 L495.40 447.50 L495.40 447.50 L496.97 447.50 L496.97 447.50 L498.53 447.50 L498.53 447.50 L500.10 447.50 L500.10 447.50 L501.67 447.50 L501.67 447.50 L503.23 447.50 L503.23 447.50 L504.80 447.50 L504.80 447.50 L506.37 447.50 L506.37 447.50 L507.93 447.50 L507.93 447.50 L509.50 447.50 L509.50 447.50" fill="none" stroke="#4c6290" stroke-linejoin="round" stroke-width="0.95" stroke-dasharray="3.5 1.6"/>
<path d="M38.00 22.30 L39.00 22.50 L39.00 22.50 L41.40 22.50 L41.40 22.50 L42.75 22.50 L42.75 23.50 L44.10 23.50 L44.10 23.50 L45.45 23.50 L45.45 23.50 L46.80 23.50 L46.80 24.50 L48.15 24.50 L48.15 24.50 L49.50 24.50 L49.50 25.50 L50.85 25.50 L50.85 25.50 L52.20 25.50 L52.20 26.50 L53.50 26.50 L53.50 27.50 L54.80 27.50 L54.80 28.50 L56.15 28.50 L56.15 28.50 L57.50 28.50 L57.50 29.50 L58.85 29.50 L58.85 30.50 L60.20 30.50 L60.20 30.50 L62.00 30.50 L62.00 32.50 L64.20 32.50 L64.20 32.50 L66.30 32.50 L66.30 34.50 L67.65 34.50 L67.65 35.50 L69.00 35.50 L69.00 36.50 L71.20 36.50 L71.20 37.50 L73.30 37.50 L73.30 38.50 L74.90 38.50 L74.90 39.50 L77.10 39.50 L77.10 42.50 L78.45 42.50 L78.45 42.50 L79.80 42.50 L79.80 43.50 L81.15 43.50 L81.15 44.50 L82.50 44.50 L82.50 45.50 L83.85 45.50 L83.85 46.50 L85.20 46.50 L85.20 46.50 L87.00 46.50 L87.00 47.50 L88.80 47.50 L88.80 48.50 L90.15 48.50 L90.15 49.50 L91.50 49.50 L91.50 50.50 L92.85 50.50 L92.85 50.50 L94.20 50.50 L94.20 51.50 L95.50 51.50 L95.50 51.50 L96.80 51.50 L96.80 52.50 L98.15 52.50 L98.15 52.50 L99.50 52.50 L99.50 53.50 L100.85 53.50 L100.85 54.50 L102.20 54.50 L102.20 54.50 L104.00 54.50 L104.00 55.50 L105.35 55.50 L105.35 55.50 L106.70 55.50 L106.70 55.50 L108.05 55.50 L108.05 56.50 L109.40 56.50 L109.40 56.50 L110.75 56.50 L110.75 57.50 L112.10 57.50 L112.10 57.50 L113.45 57.50 L113.45 57.50 L114.80 57.50 L114.80 58.50 L116.15 58.50 L116.15 58.50 L117.50 58.50 L117.50 58.50 L118.85 58.50 L118.85 59.50 L120.20 59.50 L120.20 59.50 L121.50 59.50 L121.50 59.50 L122.80 59.50 L122.80 60.50 L124.15 60.50 L124.15 60.50 L125.50 60.50 L125.50 60.50 L126.85 60.50 L126.85 60.50 L128.20 60.50 L128.20 60.50 L129.85 60.50 L129.85 61.50 L131.50 61.50 L131.50 61.50 L133.25 61.50 L133.25 61.50 L135.00 61.50 L135.00 61.50 L136.75 61.50 L136.75 62.50 L138.50 62.50 L138.50 62.50 L140.04 62.50 L140.04 62.50 L141.58 62.50 L141.58 62.50 L143.12 62.50 L143.12 62.50 L144.66 62.50 L144.66 63.50 L146.20 63.50 L146.20 63.50 L147.72 63.50 L147.72 63.50 L149.24 63.50 L149.24 63.50 L150.76 63.50 L150.76 63.50 L152.28 63.50 L152.28 64.50 L153.80 64.50 L153.80 64.50 L155.34 64.50 L155.34 64.50 L156.88 64.50 L156.88 64.50 L158.42 64.50 L158.42 64.50 L159.96 64.50 L159.96 64.50 L161.50 64.50 L161.50 65.50 L163.04 65.50 L163.04 65.50 L164.58 65.50 L164.58 65.50 L166.12 65.50 L166.12 65.50 L167.66 65.50 L167.66 66.50 L169.20 66.50 L169.20 66.50 L170.65 66.50 L170.65 66.50 L172.10 66.50 L172.10 66.50 L173.55 66.50 L173.55 67.50 L175.00 67.50 L175.00 67.50 L176.80 67.50 L176.80 67.50 L178.60 67.50 L178.60 67.50 L180.40 67.50 L180.40 67.50 L182.20 67.50 L182.20 67.50 L183.64 67.50 L183.64 67.50 L185.08 67.50 L185.08 68.50 L186.52 68.50 L186.52 68.50 L187.96 68.50 L187.96 68.50 L189.40 68.50 L189.40 68.50 L191.20 68.50 L191.20 68.50 L193.00 68.50 L193.00 69.50 L194.80 69.50 L194.80 69.50 L196.60 69.50 L196.60 69.50 L198.06 69.50 L198.06 69.50 L199.52 69.50 L199.52 69.50 L200.98 69.50 L200.98 69.50 L202.44 69.50 L202.44 70.50 L203.90 70.50 L203.90 70.50 L205.62 70.50 L205.62 70.50 L207.34 70.50 L207.34 70.50 L209.06 70.50 L209.06 70.50 L210.78 70.50 L210.78 70.50 L212.50 70.50 L212.50 70.50 L214.12 70.50 L214.12 70.50 L215.75 70.50 L215.75 70.50 L217.38 70.50 L217.38 70.50 L219.00 70.50 L219.00 70.50 L220.62 70.50 L220.62 70.50 L222.25 70.50 L222.25 70.50 L223.88 70.50 L223.88 70.50 L225.50 70.50 L225.50 70.50 L227.30 70.50 L227.30 71.50 L229.10 71.50 L229.10 71.50 L230.90 71.50 L230.90 71.50 L232.70 71.50 L232.70 71.50 L234.16 71.50 L234.16 71.50 L235.62 71.50 L235.62 72.50 L237.08 72.50 L237.08 72.50 L238.54 72.50 L238.54 72.50 L240.00 72.50 L240.00 72.50 L241.50 72.50 L241.50 72.50 L243.00 72.50 L243.00 73.50 L244.50 73.50 L244.50 73.50 L246.00 73.50 L246.00 73.50 L247.50 73.50 L247.50 74.50" fill="none" stroke="#ad3450" stroke-linejoin="round" stroke-width="0.95"/>
<path d="M298.90 22.40 L300.65 22.50 L300.65 22.50 L302.40 22.50 L302.40 22.50 L304.70 22.50 L304.70 24.50 L306.20 24.50 L306.20 25.50 L307.70 25.50 L307.70 27.50 L309.45 27.50 L309.45 28.50 L311.20 28.50 L311.20 30.50 L313.50 30.50 L313.50 32.50 L314.27 32.50 L314.27 33.50 L315.03 33.50 L315.03 34.50 L315.80 34.50 L315.80 36.50 L316.57 36.50 L316.57 37.50 L317.33 37.50 L317.33 39.50 L318.10 39.50 L318.10 41.50 L319.10 41.50 L319.10 42.50 L320.10 42.50 L320.10 44.50 L321.10 44.50 L321.10 45.50 L322.55 45.50 L322.55 46.50 L324.00 46.50 L324.00 48.50 L325.75 48.50 L325.75 49.50 L327.50 49.50 L327.50 50.50 L329.25 50.50 L329.25 52.50 L331.00 52.50 L331.00 53.50 L332.53 53.50 L332.53 54.50 L334.07 54.50 L334.07 55.50 L335.60 55.50 L335.60 57.50 L337.35 57.50 L337.35 57.50 L339.10 57.50 L339.10 58.50 L340.85 58.50 L340.85 59.50 L342.60 59.50 L342.60 60.50 L344.17 60.50 L344.17 61.50 L345.73 61.50 L345.73 61.50 L347.30 61.50 L347.30 62.50 L348.83 62.50 L348.83 62.50 L350.37 62.50 L350.37 63.50 L351.90 63.50 L351.90 64.50 L353.33 64.50 L353.33 64.50 L354.77 64.50 L354.77 65.50 L356.20 65.50 L356.20 65.50 L357.73 65.50 L357.73 65.50 L359.25 65.50 L359.25 66.50 L360.77 66.50 L360.77 66.50 L362.30 66.50 L362.30 67.50 L363.84 67.50 L363.84 67.50 L365.38 67.50 L365.38 67.50 L366.92 67.50 L366.92 67.50 L368.46 67.50 L368.46 68.50 L370.00 68.50 L370.00 68.50 L371.54 68.50 L371.54 68.50 L373.08 68.50 L373.08 68.50 L374.62 68.50 L374.62 69.50 L376.16 69.50 L376.16 69.50 L377.70 69.50 L377.70 69.50 L379.24 69.50 L379.24 69.50 L380.78 69.50 L380.78 70.50 L382.32 70.50 L382.32 70.50 L383.86 70.50 L383.86 70.50 L385.40 70.50 L385.40 70.50 L386.94 70.50 L386.94 71.50 L388.48 71.50 L388.48 71.50 L390.02 71.50 L390.02 71.50 L391.56 71.50 L391.56 71.50 L393.10 71.50 L393.10 72.50 L394.63 72.50 L394.63 72.50 L396.17 72.50 L396.17 72.50 L397.70 72.50 L397.70 72.50 L399.23 72.50 L399.23 72.50 L400.77 72.50 L400.77 72.50 L402.30 72.50 L402.30 72.50 L403.84 72.50 L403.84 73.50 L405.38 73.50 L405.38 73.50 L406.92 73.50 L406.92 73.50 L408.46 73.50 L408.46 73.50 L410.00 73.50 L410.00 74.50 L411.53 74.50 L411.53 74.50 L413.07 74.50 L413.07 74.50 L414.60 74.50 L414.60 74.50 L416.13 74.50 L416.13 74.50 L417.67 74.50 L417.67 74.50 L419.20 74.50 L419.20 75.50 L420.74 75.50 L420.74 75.50 L422.29 75.50 L422.29 75.50 L423.83 75.50 L423.83 75.50 L425.37 75.50 L425.37 75.50 L426.91 75.50 L426.91 75.50 L428.46 75.50 L428.46 75.50 L430.00 75.50 L430.00 76.50 L431.58 76.50 L431.58 76.50 L433.16 76.50 L433.16 76.50 L434.74 76.50 L434.74 76.50 L436.32 76.50 L436.32 76.50 L437.90 76.50 L437.90 76.50 L439.48 76.50 L439.48 76.50 L441.06 76.50 L441.06 77.50 L442.64 77.50 L442.64 77.50 L444.22 77.50 L444.22 77.50 L445.80 77.50 L445.80 77.50 L447.38 77.50 L447.38 77.50 L448.96 77.50 L448.96 77.50 L450.54 77.50 L450.54 77.50 L452.12 77.50 L452.12 78.50 L453.70 78.50 L453.70 78.50 L455.26 78.50 L455.26 78.50 L456.82 78.50 L456.82 78.50 L458.38 78.50 L458.38 78.50 L459.94 78.50 L459.94 79.50 L461.50 79.50 L461.50 79.50 L463.08 79.50 L463.08 79.50 L464.66 79.50 L464.66 79.50 L466.24 79.50 L466.24 79.50 L467.82 79.50 L467.82 79.50 L469.40 79.50 L469.40 79.50 L470.98 79.50 L470.98 79.50 L472.56 79.50 L472.56 80.50 L474.14 80.50 L474.14 80.50 L475.72 80.50 L475.72 80.50 L477.30 80.50 L477.30 80.50 L478.88 80.50 L478.88 80.50 L480.46 80.50 L480.46 80.50 L482.04 80.50 L482.04 80.50 L483.62 80.50 L483.62 80.50 L485.20 80.50 L485.20 80.50 L486.78 80.50 L486.78 80.50 L488.36 80.50 L488.36 80.50 L489.94 80.50 L489.94 81.50 L491.52 81.50 L491.52 81.50 L493.10 81.50 L493.10 81.50 L494.68 81.50 L494.68 81.50 L496.25 81.50 L496.25 81.50 L497.82 81.50 L497.82 81.50 L499.40 81.50 L499.40 81.50 L501.10 81.50 L501.10 81.50 L502.80 81.50 L502.80 81.50 L504.50 81.50 L504.50 81.50 L506.20 81.50 L506.20 81.50 L507.90 81.50 L507.90 81.50 L509.60 81.50 L509.60 81.50" fill="none" stroke="#ad3450" stroke-linejoin="round" stroke-width="0.95"/>
<path d="M37.20 307.80 L38.95 307.50 L38.95 307.50 L40.70 307.50 L40.70 307.50 L43.00 307.50 L43.00 305.50 L45.30 305.50 L45.30 304.50 L47.60 304.50 L47.60 303.50 L50.00 303.50 L50.00 302.50 L52.30 302.50 L52.30 299.50 L54.00 299.50 L54.00 297.50 L54.60 297.50 L54.60 295.50 L55.20 295.50 L55.20 294.50 L56.10 294.50 L56.10 292.50 L57.00 292.50 L57.00 291.50 L58.70 291.50 L58.70 290.50 L60.50 290.50 L60.50 288.50 L61.40 288.50 L61.40 286.50 L62.30 286.50 L62.30 285.50 L63.50 285.50 L63.50 285.50 L64.70 285.50 L64.70 284.50 L66.15 284.50 L66.15 283.50 L67.60 283.50 L67.60 282.50 L69.05 282.50 L69.05 281.50 L70.50 281.50 L70.50 280.50 L71.95 280.50 L71.95 279.50 L73.40 279.50 L73.40 278.50 L74.85 278.50 L74.85 278.50 L76.30 278.50 L76.30 278.50 L78.60 278.50 L78.60 277.50 L80.35 277.50 L80.35 277.50 L82.10 277.50 L82.10 276.50 L83.55 276.50 L83.55 276.50 L85.00 276.50 L85.00 275.50 L86.50 275.50 L86.50 275.50 L88.00 275.50 L88.00 275.50 L89.60 275.50 L89.60 274.50 L91.20 274.50 L91.20 274.50 L92.88 274.50 L92.88 274.50 L94.55 274.50 L94.55 273.50 L96.23 273.50 L96.23 273.50 L97.90 273.50 L97.90 273.50 L100.00 273.50 L100.00 272.50 L101.54 272.50 L101.54 272.50 L103.08 272.50 L103.08 271.50 L104.62 271.50 L104.62 271.50 L106.16 271.50 L106.16 271.50 L107.70 271.50 L107.70 271.50 L109.24 271.50 L109.24 271.50 L110.78 271.50 L110.78 270.50 L112.32 270.50 L112.32 270.50 L113.86 270.50 L113.86 270.50 L115.40 270.50 L115.40 270.50 L116.92 270.50 L116.92 270.50 L118.44 270.50 L118.44 270.50 L119.96 270.50 L119.96 270.50 L121.48 270.50 L121.48 270.50 L123.00 270.50 L123.00 269.50 L124.56 269.50 L124.56 269.50 L126.12 269.50 L126.12 269.50 L127.68 269.50 L127.68 269.50 L129.24 269.50 L129.24 269.50 L130.80 269.50 L130.80 269.50 L132.34 269.50 L132.34 269.50 L133.88 269.50 L133.88 269.50 L135.42 269.50 L135.42 269.50 L136.96 269.50 L136.96 269.50 L138.50 269.50 L138.50 269.50 L140.04 269.50 L140.04 269.50 L141.58 269.50 L141.58 269.50 L143.12 269.50 L143.12 269.50 L144.66 269.50 L144.66 268.50 L146.20 268.50 L146.20 268.50 L147.72 268.50 L147.72 268.50 L149.24 268.50 L149.24 268.50 L150.76 268.50 L150.76 268.50 L152.28 268.50 L152.28 268.50 L153.80 268.50 L153.80 268.50 L155.34 268.50 L155.34 268.50 L156.88 268.50 L156.88 267.50 L158.42 267.50 L158.42 267.50 L159.96 267.50 L159.96 267.50 L161.50 267.50 L161.50 267.50 L163.04 267.50 L163.04 267.50 L164.58 267.50 L164.58 267.50 L166.12 267.50 L166.12 267.50 L167.66 267.50 L167.66 267.50 L169.20 267.50 L169.20 267.50 L170.73 267.50 L170.73 266.50 L172.27 266.50 L172.27 266.50 L173.80 266.50 L173.80 266.50 L175.35 266.50 L175.35 266.50 L176.90 266.50 L176.90 266.50 L178.45 266.50 L178.45 266.50 L180.00 266.50 L180.00 266.50 L181.62 266.50 L181.62 266.50 L183.25 266.50 L183.25 266.50 L184.88 266.50 L184.88 265.50 L186.50 265.50 L186.50 265.50 L188.11 265.50 L188.11 265.50 L189.72 265.50 L189.72 265.50 L191.33 265.50 L191.33 265.50 L192.94 265.50 L192.94 265.50 L194.56 265.50 L194.56 265.50 L196.17 265.50 L196.17 265.50 L197.78 265.50 L197.78 265.50 L199.39 265.50 L199.39 265.50 L201.00 265.50 L201.00 264.50 L202.80 264.50 L202.80 264.50 L204.60 264.50 L204.60 264.50 L206.40 264.50 L206.40 264.50 L208.20 264.50 L208.20 264.50 L209.88 264.50 L209.88 264.50 L211.57 264.50 L211.57 264.50 L213.25 264.50 L213.25 264.50 L214.93 264.50 L214.93 264.50 L216.62 264.50 L216.62 264.50 L218.30 264.50 L218.30 264.50 L219.75 264.50 L219.75 263.50 L221.20 263.50 L221.20 263.50 L222.84 263.50 L222.84 263.50 L224.49 263.50 L224.49 263.50 L226.13 263.50 L226.13 263.50 L227.77 263.50 L227.77 263.50 L229.41 263.50 L229.41 263.50 L231.06 263.50 L231.06 263.50 L232.70 263.50 L232.70 263.50 L234.15 263.50 L234.15 263.50 L235.60 263.50 L235.60 263.50 L237.14 263.50 L237.14 263.50 L238.68 263.50 L238.68 263.50 L240.21 263.50 L240.21 263.50 L241.75 263.50 L241.75 263.50 L243.29 263.50 L243.29 263.50 L244.82 263.50 L244.82 263.50 L246.36 263.50 L246.36 263.50 L247.90 263.50 L247.90 263.50" fill="none" stroke="#ad3450" stroke-linejoin="round" stroke-width="0.95"/>
<path d="M299.10 307.70 L300.63 307.50 L300.63 307.50 L302.17 307.50 L302.17 306.50 L303.70 306.50 L303.70 306.50 L305.24 306.50 L305.24 306.50 L306.78 306.50 L306.78 305.50 L308.32 305.50 L308.32 305.50 L309.86 305.50 L309.86 305.50 L311.40 305.50 L311.40 304.50 L312.94 304.50 L312.94 304.50 L314.48 304.50 L314.48 303.50 L316.02 303.50 L316.02 303.50 L317.56 303.50 L317.56 303.50 L319.10 303.50 L319.10 302.50 L320.64 302.50 L320.64 302.50 L322.18 302.50 L322.18 301.50 L323.72 301.50 L323.72 301.50 L325.26 301.50 L325.26 301.50 L326.80 301.50 L326.80 300.50 L328.34 300.50 L328.34 300.50 L329.88 300.50 L329.88 300.50 L331.42 300.50 L331.42 299.50 L332.96 299.50 L332.96 299.50 L334.50 299.50 L334.50 299.50 L336.04 299.50 L336.04 298.50 L337.58 298.50 L337.58 298.50 L339.12 298.50 L339.12 298.50 L340.66 298.50 L340.66 298.50 L342.20 298.50 L342.20 297.50 L343.72 297.50 L343.72 297.50 L345.24 297.50 L345.24 297.50 L346.76 297.50 L346.76 297.50 L348.28 297.50 L348.28 297.50 L349.80 297.50 L349.80 297.50 L351.34 297.50 L351.34 297.50 L352.88 297.50 L352.88 297.50 L354.42 297.50 L354.42 296.50 L355.96 296.50 L355.96 296.50 L357.50 296.50 L357.50 296.50 L359.04 296.50 L359.04 296.50 L360.58 296.50 L360.58 296.50 L362.12 296.50 L362.12 296.50 L363.66 296.50 L363.66 295.50 L365.20 295.50 L365.20 295.50 L366.80 295.50 L366.80 295.50 L368.40 295.50 L368.40 295.50 L370.00 295.50 L370.00 295.50 L371.54 295.50 L371.54 295.50 L373.08 295.50 L373.08 295.50 L374.62 295.50 L374.62 295.50 L376.16 295.50 L376.16 295.50 L377.70 295.50 L377.70 295.50 L379.24 295.50 L379.24 295.50 L380.78 295.50 L380.78 295.50 L382.32 295.50 L382.32 295.50 L383.86 295.50 L383.86 295.50 L385.40 295.50 L385.40 295.50 L386.94 295.50 L386.94 294.50 L388.48 294.50 L388.48 294.50 L390.02 294.50 L390.02 294.50 L391.56 294.50 L391.56 294.50 L393.10 294.50 L393.10 294.50 L394.64 294.50 L394.64 294.50 L396.18 294.50 L396.18 294.50 L397.72 294.50 L397.72 294.50 L399.26 294.50 L399.26 294.50 L400.80 294.50 L400.80 294.50 L402.34 294.50 L402.34 294.50 L403.88 294.50 L403.88 293.50 L405.42 293.50 L405.42 293.50 L406.96 293.50 L406.96 293.50 L408.50 293.50 L408.50 293.50 L410.04 293.50 L410.04 293.50 L411.58 293.50 L411.58 293.50 L413.12 293.50 L413.12 293.50 L414.66 293.50 L414.66 293.50 L416.20 293.50 L416.20 293.50 L417.73 293.50 L417.73 293.50 L419.26 293.50 L419.26 293.50 L420.79 293.50 L420.79 293.50 L422.32 293.50 L422.32 293.50 L423.85 293.50 L423.85 292.50 L425.38 292.50 L425.38 292.50 L426.91 292.50 L426.91 292.50 L428.44 292.50 L428.44 292.50 L429.97 292.50 L429.97 292.50 L431.50 292.50 L431.50 292.50 L433.20 292.50 L433.20 292.50 L434.90 292.50 L434.90 292.50 L436.60 292.50 L436.60 292.50 L438.30 292.50 L438.30 292.50 L440.00 292.50 L440.00 292.50 L441.54 292.50 L441.54 292.50 L443.09 292.50 L443.09 292.50 L444.63 292.50 L444.63 292.50 L446.18 292.50 L446.18 292.50 L447.72 292.50 L447.72 292.50 L449.27 292.50 L449.27 292.50 L450.81 292.50 L450.81 292.50 L452.36 292.50 L452.36 292.50 L453.90 292.50 L453.90 292.50 L455.43 292.50 L455.43 292.50 L456.97 292.50 L456.97 292.50 L458.50 292.50 L458.50 292.50 L460.03 292.50 L460.03 292.50 L461.57 292.50 L461.57 292.50 L463.10 292.50 L463.10 292.50 L464.63 292.50 L464.63 292.50 L466.17 292.50 L466.17 292.50 L467.70 292.50 L467.70 292.50 L469.24 292.50 L469.24 292.50 L470.79 292.50 L470.79 292.50 L472.33 292.50 L472.33 292.50 L473.88 292.50 L473.88 292.50 L475.42 292.50 L475.42 292.50 L476.97 292.50 L476.97 292.50 L478.51 292.50 L478.51 291.50 L480.06 291.50 L480.06 291.50 L481.60 291.50 L481.60 291.50 L483.13 291.50 L483.13 291.50 L484.67 291.50 L484.67 291.50 L486.20 291.50 L486.20 291.50 L487.73 291.50 L487.73 291.50 L489.27 291.50 L489.27 291.50 L490.80 291.50 L490.80 291.50 L492.33 291.50 L492.33 291.50 L493.87 291.50 L493.87 291.50 L495.40 291.50 L495.40 291.50 L496.94 291.50 L496.94 291.50 L498.49 291.50 L498.49 291.50 L500.03 291.50 L500.03 291.50 L501.58 291.50 L501.58 291.50 L503.12 291.50 L503.12 291.50 L504.67 291.50 L504.67 291.50 L506.21 291.50 L506.21 291.50 L507.76 291.50 L507.76 291.50 L509.30 291.50 L509.30 291.50" fill="none" stroke="#ad3450" stroke-linejoin="round" stroke-width="0.95"/>
<path d="M37.50 479.80 L39.10 479.50 L39.10 479.50 L40.70 479.50 L40.70 479.50 L42.30 479.50 L42.30 479.50 L43.90 479.50 L43.90 479.50 L45.50 479.50 L45.50 479.50 L47.10 479.50 L47.10 479.50 L48.70 479.50 L48.70 479.50 L50.30 479.50 L50.30 479.50 L51.90 479.50 L51.90 479.50 L53.65 479.50 L53.65 479.50 L55.40 479.50 L55.40 479.50 L57.10 479.50 L57.10 478.50 L58.80 478.50 L58.80 478.50 L60.55 478.50 L60.55 477.50 L62.30 477.50 L62.30 476.50 L63.75 476.50 L63.75 475.50 L65.20 475.50 L65.20 475.50 L66.65 475.50 L66.65 474.50 L68.10 474.50 L68.10 474.50 L69.20 474.50 L69.20 473.50 L71.00 473.50 L71.00 472.50 L72.50 472.50 L72.50 470.50 L72.50 470.50 L72.50 469.50 L72.50 469.50 L72.50 467.50 L72.50 467.50 L72.50 466.50 L73.80 466.50 L73.80 465.50 L76.10 465.50 L76.10 463.50 L78.40 463.50 L78.40 461.50 L80.15 461.50 L80.15 461.50 L81.90 461.50 L81.90 461.50 L83.65 461.50 L83.65 461.50 L85.40 461.50 L85.40 461.50 L87.40 461.50 L87.40 460.50 L89.40 460.50 L89.40 459.50 L90.00 459.50 L90.00 457.50 L92.30 457.50 L92.30 457.50 L93.40 457.50 L93.40 457.50 L93.40 457.50 L93.40 455.50 L93.40 455.50 L93.40 454.50 L93.40 454.50 L93.40 452.50 L93.40 452.50 L93.40 451.50 L95.15 451.50 L95.15 451.50 L96.90 451.50 L96.90 450.50 L98.65 450.50 L98.65 450.50 L100.40 450.50 L100.40 449.50 L101.80 449.50 L101.80 449.50 L103.20 449.50 L103.20 449.50 L104.60 449.50 L104.60 449.50 L106.13 449.50 L106.13 448.50 L107.67 448.50 L107.67 448.50 L109.20 448.50 L109.20 448.50 L110.75 448.50 L110.75 447.50 L112.30 447.50 L112.30 447.50 L113.85 447.50 L113.85 447.50 L115.40 447.50 L115.40 447.50 L116.93 447.50 L116.93 447.50 L118.45 447.50 L118.45 446.50 L119.97 446.50 L119.97 446.50 L121.50 446.50 L121.50 446.50 L123.05 446.50 L123.05 446.50 L124.60 446.50 L124.60 446.50 L126.15 446.50 L126.15 445.50 L127.70 445.50 L127.70 445.50 L129.24 445.50 L129.24 445.50 L130.79 445.50 L130.79 445.50 L132.33 445.50 L132.33 445.50 L133.87 445.50 L133.87 445.50 L135.41 445.50 L135.41 445.50 L136.96 445.50 L136.96 445.50 L138.50 445.50 L138.50 445.50 L140.04 445.50 L140.04 445.50 L141.57 445.50 L141.57 445.50 L143.11 445.50 L143.11 445.50 L144.65 445.50 L144.65 445.50 L146.19 445.50 L146.19 445.50 L147.73 445.50 L147.73 445.50 L149.26 445.50 L149.26 445.50 L150.80 445.50 L150.80 445.50 L152.30 445.50 L152.30 444.50 L153.91 444.50 L153.91 444.50 L155.53 444.50 L155.53 444.50 L157.14 444.50 L157.14 444.50 L158.75 444.50 L158.75 444.50 L160.37 444.50 L160.37 444.50 L161.98 444.50 L161.98 444.50 L163.59 444.50 L163.59 444.50 L165.21 444.50 L165.21 444.50 L166.82 444.50 L166.82 444.50 L168.44 444.50 L168.44 444.50 L170.05 444.50 L170.05 444.50 L171.66 444.50 L171.66 444.50 L173.28 444.50 L173.28 444.50 L174.89 444.50 L174.89 444.50 L176.50 444.50 L176.50 444.50 L178.12 444.50 L178.12 444.50 L179.73 444.50 L179.73 444.50 L181.34 444.50 L181.34 444.50 L182.96 444.50 L182.96 444.50 L184.57 444.50 L184.57 444.50 L186.18 444.50 L186.18 444.50 L187.80 444.50 L187.80 444.50 L189.41 444.50 L189.41 444.50 L191.03 444.50 L191.03 444.50 L192.64 444.50 L192.64 444.50 L194.25 444.50 L194.25 444.50 L195.87 444.50 L195.87 444.50 L197.48 444.50 L197.48 444.50 L199.09 444.50 L199.09 444.50 L200.71 444.50 L200.71 444.50 L202.32 444.50 L202.32 444.50 L203.93 444.50 L203.93 444.50 L205.55 444.50 L205.55 444.50 L207.16 444.50 L207.16 444.50 L208.77 444.50 L208.77 444.50 L210.39 444.50 L210.39 444.50 L212.00 444.50 L212.00 444.50 L213.62 444.50 L213.62 444.50 L215.23 444.50 L215.23 444.50 L216.84 444.50 L216.84 444.50 L218.46 444.50 L218.46 444.50 L220.07 444.50 L220.07 444.50 L221.68 444.50 L221.68 444.50 L223.30 444.50 L223.30 444.50 L224.91 444.50 L224.91 444.50 L226.52 444.50 L226.52 444.50 L228.14 444.50 L228.14 444.50 L229.75 444.50 L229.75 444.50 L231.36 444.50 L231.36 444.50 L232.98 444.50 L232.98 444.50 L234.59 444.50 L234.59 444.50 L236.21 444.50 L236.21 444.50 L237.82 444.50 L237.82 444.50 L239.43 444.50 L239.43 444.50 L241.05 444.50 L241.05 444.50 L242.66 444.50 L242.66 444.50 L244.27 444.50 L244.27 444.50 L245.89 444.50 L245.89 444.50 L247.50 444.50 L247.50 444.50" fill="none" stroke="#ad3450" stroke-linejoin="round" stroke-width="0.95"/>
<path d="M299.50 479.60 L301.02 479.50 L301.02 479.50 L302.54 479.50 L302.54 479.50 L304.06 479.50 L304.06 479.50 L305.58 479.50 L305.58 479.50 L307.10 479.50 L307.10 479.50 L308.70 479.50 L308.70 478.50 L310.30 478.50 L310.30 478.50 L311.90 478.50 L311.90 478.50 L313.50 478.50 L313.50 477.50 L315.10 477.50 L315.10 477.50 L316.70 477.50 L316.70 477.50 L318.30 477.50 L318.30 475.50 L319.90 475.50 L319.90 474.50 L320.97 474.50 L320.97 472.50 L322.03 472.50 L322.03 470.50 L323.10 470.50 L323.10 469.50 L324.70 469.50 L324.70 467.50 L326.30 467.50 L326.30 465.50 L327.33 465.50 L327.33 463.50 L328.37 463.50 L328.37 462.50 L329.40 462.50 L329.40 460.50 L330.00 460.50 L330.00 459.50 L330.60 459.50 L330.60 457.50 L331.20 457.50 L331.20 456.50 L331.80 456.50 L331.80 454.50 L333.13 454.50 L333.13 453.50 L334.47 453.50 L334.47 451.50 L335.80 451.50 L335.80 450.50 L337.13 450.50 L337.13 448.50 L338.47 448.50 L338.47 447.50 L339.80 447.50 L339.80 445.50 L341.13 445.50 L341.13 443.50 L342.47 443.50 L342.47 441.50 L343.80 441.50 L343.80 439.50 L345.37 439.50 L345.37 438.50 L346.93 438.50 L346.93 437.50 L348.50 437.50 L348.50 435.50 L350.10 435.50 L350.10 435.50 L351.70 435.50 L351.70 434.50 L353.30 434.50 L353.30 433.50 L354.90 433.50 L354.90 432.50 L356.50 432.50 L356.50 430.50 L358.10 430.50 L358.10 429.50 L359.70 429.50 L359.70 428.50 L361.30 428.50 L361.30 427.50 L362.90 427.50 L362.90 427.50 L364.47 427.50 L364.47 426.50 L366.05 426.50 L366.05 426.50 L367.62 426.50 L367.62 425.50 L369.20 425.50 L369.20 425.50 L370.90 425.50 L370.90 424.50 L372.60 424.50 L372.60 424.50 L374.30 424.50 L374.30 424.50 L376.00 424.50 L376.00 423.50 L377.70 423.50 L377.70 423.50 L379.24 423.50 L379.24 423.50 L380.78 423.50 L380.78 422.50 L382.32 422.50 L382.32 422.50 L383.86 422.50 L383.86 422.50 L385.40 422.50 L385.40 422.50 L386.93 422.50 L386.93 421.50 L388.47 421.50 L388.47 421.50 L390.00 421.50 L390.00 421.50 L391.53 421.50 L391.53 421.50 L393.07 421.50 L393.07 420.50 L394.60 420.50 L394.60 420.50 L396.13 420.50 L396.13 420.50 L397.67 420.50 L397.67 420.50 L399.20 420.50 L399.20 420.50 L400.73 420.50 L400.73 420.50 L402.27 420.50 L402.27 420.50 L403.80 420.50 L403.80 420.50 L405.35 420.50 L405.35 419.50 L406.90 419.50 L406.90 419.50 L408.45 419.50 L408.45 419.50 L410.00 419.50 L410.00 419.50 L411.55 419.50 L411.55 419.50 L413.10 419.50 L413.10 418.50 L414.63 418.50 L414.63 418.50 L416.16 418.50 L416.16 418.50 L417.69 418.50 L417.69 418.50 L419.21 418.50 L419.21 418.50 L420.74 418.50 L420.74 418.50 L422.27 418.50 L422.27 418.50 L423.80 418.50 L423.80 418.50 L425.34 418.50 L425.34 418.50 L426.88 418.50 L426.88 418.50 L428.42 418.50 L428.42 418.50 L429.96 418.50 L429.96 418.50 L431.50 418.50 L431.50 417.50 L433.07 417.50 L433.07 417.50 L434.65 417.50 L434.65 417.50 L436.23 417.50 L436.23 417.50 L437.80 417.50 L437.80 417.50 L439.38 417.50 L439.38 417.50 L440.95 417.50 L440.95 417.50 L442.52 417.50 L442.52 417.50 L444.10 417.50 L444.10 417.50 L445.67 417.50 L445.67 417.50 L447.25 417.50 L447.25 417.50 L448.82 417.50 L448.82 417.50 L450.40 417.50 L450.40 417.50 L451.10 417.50 L451.10 417.50 L452.76 417.50 L452.76 417.50 L454.42 417.50 L454.42 417.50 L456.08 417.50 L456.08 417.50 L457.74 417.50 L457.74 417.50 L459.40 417.50 L459.40 417.50 L461.06 417.50 L461.06 417.50 L462.72 417.50 L462.72 417.50 L464.38 417.50 L464.38 417.50 L466.04 417.50 L466.04 417.50 L467.70 417.50 L467.70 417.50 L469.24 417.50 L469.24 417.50 L470.79 417.50 L470.79 417.50 L472.33 417.50 L472.33 416.50 L473.88 416.50 L473.88 416.50 L475.42 416.50 L475.42 416.50 L476.97 416.50 L476.97 416.50 L478.51 416.50 L478.51 416.50 L480.06 416.50 L480.06 416.50 L481.60 416.50 L481.60 416.50 L483.24 416.50 L483.24 416.50 L484.88 416.50 L484.88 416.50 L486.52 416.50 L486.52 416.50 L488.16 416.50 L488.16 416.50 L489.81 416.50 L489.81 416.50 L491.45 416.50 L491.45 416.50 L493.09 416.50 L493.09 416.50 L494.73 416.50 L494.73 416.50 L496.37 416.50 L496.37 416.50 L498.01 416.50 L498.01 416.50 L499.65 416.50 L499.65 416.50 L501.29 416.50 L501.29 416.50 L502.94 416.50 L502.94 416.50 L504.58 416.50 L504.58 416.50 L506.22 416.50 L506.22 416.50 L507.86 416.50 L507.86 416.50 L509.50 416.50 L509.50 416.50" fill="none" stroke="#ad3450" stroke-linejoin="round" stroke-width="0.95"/>
</g>
<rect x="0" y="0" width="520" height="1" fill="#474747"/>
<rect x="0" y="1" width="520" height="1" fill="#aaaaaa"/>
<rect x="0" y="0" width="1" height="515" fill="#454545"/>
<rect x="1" y="1" width="1" height="513" fill="#9a9a9a"/>
<rect x="0" y="514" width="520" height="1" fill="#4a4a4a"/>
<rect x="1" y="513" width="518" height="1" fill="#cccccc"/>
<rect x="519" y="0" width="1" height="515" fill="#0c0c0c"/>
</svg></body></html>
